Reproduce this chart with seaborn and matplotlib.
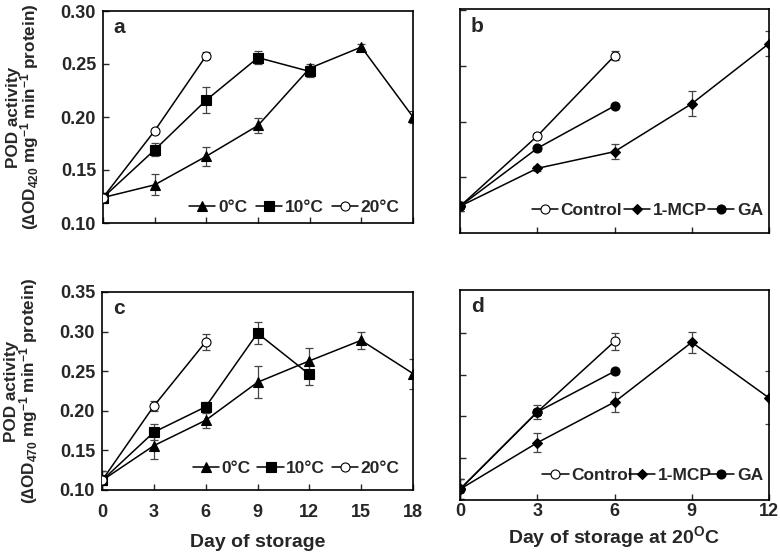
import matplotlib
matplotlib.use("Agg")
import matplotlib.pyplot as plt
import seaborn as sns

# ========================== Data ==================================
# panel a / c : storage temperature, days 0-18
days_0C = [0, 3, 6, 9, 12, 15, 18]
days_10C = [0, 3, 6, 9, 12]
days_20C = [0, 3, 6]

pod420_0C = [0.124, 0.136, 0.163, 0.192, 0.246, 0.266, 0.200]
err420_0C = [0.004, 0.010, 0.009, 0.007, 0.004, 0.003, 0.006]
pod420_10C = [0.124, 0.169, 0.216, 0.256, 0.243]
err420_10C = [0.004, 0.006, 0.012, 0.006, 0.005]
pod420_20C = [0.124, 0.187, 0.258]
err420_20C = [0.004, 0.002, 0.003]

pod470_0C = [0.112, 0.156, 0.188, 0.236, 0.263, 0.289, 0.247]
err470_0C = [0.012, 0.017, 0.0095, 0.020, 0.016, 0.011, 0.019]
pod470_10C = [0.112, 0.173, 0.205, 0.298, 0.246]
err470_10C = [0.012, 0.010, 0.006, 0.014, 0.0135]
pod470_20C = [0.112, 0.206, 0.287]
err470_20C = [0.012, 0.006, 0.010]

# panel b / d : treatments at 20 C, days 0-12
days_ctrl = [0, 3, 6]
days_mcp = [0, 3, 6, 9, 12]
days_ga = [0, 3, 6]

ctrl420 = [0.124, 0.187, 0.259]
ctrl420_err = [0.004, 0.003, 0.004]
mcp420 = [0.124, 0.158, 0.173, 0.216, 0.270]
mcp420_err = [0.004, 0.002, 0.0065, 0.011, 0.011]
ga420 = [0.124, 0.176, 0.214]
ga420_err = [0.004, 0.002, 0.002]

ctrl470 = [0.112, 0.205, 0.290]
ctrl470_err = [0.012, 0.004, 0.010]
mcp470 = [0.112, 0.168, 0.217, 0.289, 0.222]
mcp470_err = [0.012, 0.0115, 0.0125, 0.013, 0.032]
ga470 = [0.112, 0.205, 0.254]
ga470_err = [0.012, 0.008, 0.003]

# ========================== Style =================================
sns.set_style("ticks")
plt.rcParams["font.family"] = ["Liberation Sans", "DejaVu Sans"]
plt.rcParams["font.weight"] = "bold"
plt.rcParams["mathtext.fontset"] = "custom"
plt.rcParams["mathtext.rm"] = "Liberation Sans:bold"
plt.rcParams["mathtext.it"] = "Liberation Sans:bold"
plt.rcParams["mathtext.bf"] = "Liberation Sans:bold"


def draw_series(ax, x, y, err, marker, face, label):
    ax.errorbar(x, y, yerr=err, fmt="none", ecolor="#444444",
                elinewidth=0.9, capsize=3, capthick=0.9, zorder=2)
    sns.lineplot(x=x, y=y, ax=ax, color="black", linewidth=1.1,
                 marker=marker, markersize=6.5 if marker != "D" else 5.5,
                 markerfacecolor=face, markeredgecolor="black",
                 markeredgewidth=0.8, label=label, zorder=3)


def style_axes(ax, letter, xmax, ylim, yticks, show_ylabels, show_xlabels,
               leg_anchor, colsp=0.3, xpad=5):
    ax.set_xlim(0, xmax)
    ax.set_ylim(*ylim)
    xt = list(range(0, xmax + 1, 3))
    ax.set_xticks(xt)
    ax.set_yticks(yticks)
    ax.tick_params(direction="in", length=4, width=1, labelsize=13, pad=5)
    ax.tick_params(axis="x", pad=xpad)
    if show_xlabels:
        ax.set_xticklabels([str(t) for t in xt], fontweight="bold")
    else:
        ax.set_xticklabels([])
    if show_ylabels:
        ax.set_yticklabels([f"{t:.2f}" for t in yticks], fontweight="bold")
    else:
        ax.set_yticklabels([])
    for s in ax.spines.values():
        s.set_linewidth(1.2)
        s.set_color("black")
    ax.text(0.035, 0.965, letter, transform=ax.transAxes, fontsize=15,
            fontweight="bold", va="top", ha="left")
    ax.set_xlabel("")
    ax.set_ylabel("")
    ax.legend(loc="lower right", bbox_to_anchor=leg_anchor, ncol=3,
              frameon=False, handlelength=1.5, handletextpad=0.15,
              columnspacing=colsp, borderaxespad=0.2,
              prop={"weight": "bold", "size": 12.5})


W, H = 780, 553
fig = plt.figure(figsize=(W / 100, H / 100), dpi=100)


def rect(l, r, t, b):
    return [l / W, 1 - b / H, (r - l) / W, (b - t) / H]


ax_a = fig.add_axes(rect(103, 413, 11, 223))
ax_b = fig.add_axes(rect(460, 769, 9, 233))
ax_c = fig.add_axes(rect(102, 413, 292, 490))
ax_d = fig.add_axes(rect(460, 769, 290, 500))

# panel a
draw_series(ax_a, days_0C, pod420_0C, err420_0C, "^", "black", "0°C")
draw_series(ax_a, days_10C, pod420_10C, err420_10C, "s", "black", "10°C")
draw_series(ax_a, days_20C, pod420_20C, err420_20C, "o", "white", "20°C")
style_axes(ax_a, "a", 18, (0.10, 0.30), [0.10, 0.15, 0.20, 0.25, 0.30],
           True, False, (0.99, -0.01), colsp=0.5)

# panel b
draw_series(ax_b, days_ctrl, ctrl420, ctrl420_err, "o", "white", "Control")
draw_series(ax_b, days_mcp, mcp420, mcp420_err, "D", "black", "1-MCP")
draw_series(ax_b, days_ga, ga420, ga420_err, "o", "black", "GA")
style_axes(ax_b, "b", 12, (0.10, 0.301), [0.15, 0.20, 0.25, 0.30],
           False, False, (1.015, 0.02), colsp=0.1)

# panel c
draw_series(ax_c, days_0C, pod470_0C, err470_0C, "^", "black", "0°C")
draw_series(ax_c, days_10C, pod470_10C, err470_10C, "s", "black", "10°C")
draw_series(ax_c, days_20C, pod470_20C, err470_20C, "o", "white", "20°C")
style_axes(ax_c, "c", 18, (0.10, 0.35),
           [0.10, 0.15, 0.20, 0.25, 0.30, 0.35], True, True, (0.99, 0.02),
           colsp=0.4, xpad=10)

# panel d
draw_series(ax_d, days_ctrl, ctrl470, ctrl470_err, "o", "white", "Control")
draw_series(ax_d, days_mcp, mcp470, mcp470_err, "D", "black", "1-MCP")
draw_series(ax_d, days_ga, ga470, ga470_err, "o", "black", "GA")
style_axes(ax_d, "d", 12, (0.099, 0.352), [0.15, 0.20, 0.25, 0.30],
           False, True, (1.015, 0.03), colsp=-0.2, xpad=2)

ax_a.set_ylabel("POD activity\n(\u2206OD$_{420}$ mg$^{-1}$ min$^{-1}$ protein)",
                fontsize=12.3, fontweight="bold", linespacing=0.85)
ax_c.set_ylabel("POD activity\n(\u2206OD$_{470}$ mg$^{-1}$ min$^{-1}$ protein)",
                fontsize=12.3, fontweight="bold", linespacing=0.85)
ax_a.yaxis.set_label_coords(-0.2, 0.5)
ax_c.yaxis.set_label_coords(-0.2, 0.5)
ax_c.set_xlabel("Day of storage", fontsize=14, fontweight="bold")
ax_d.set_xlabel("Day of storage at 20$^{O}$C", fontsize=14,
                fontweight="bold")
ax_c.xaxis.set_label_coords(0.5, -0.22)
ax_d.xaxis.set_label_coords(0.5, -0.115)

fig.savefig("out.png", dpi=100)
